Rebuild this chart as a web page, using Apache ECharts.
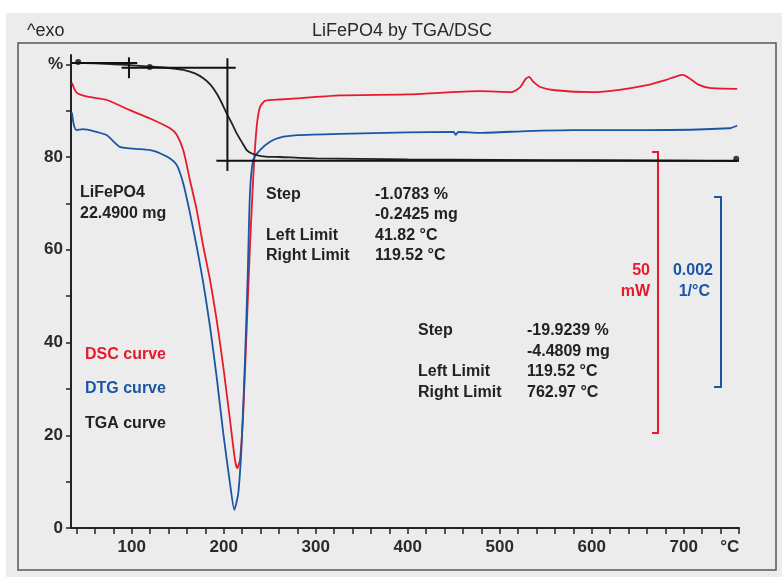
<!DOCTYPE html>
<html>
<head>
<meta charset="utf-8">
<script src="https://cdn.jsdelivr.net/npm/echarts@6/dist/echarts.min.js"></script>
<style>
  html, body { margin: 0; padding: 0; background: #fff; }
  #chart { width: 782px; height: 577px; }
</style>
</head>
<body>
<div id="chart"></div>
<script>
// 温度 (°C) 与曲线数值 (按图中 % 坐标读取)
var dscTemp = [35, 37, 40, 45, 55, 73, 98, 120, 141.6, 148.9, 156, 163.3, 170.6, 177.8, 185.1, 192.3, 199.5, 206.8, 212.2, 214.7, 217.7, 221.3, 225, 228.5, 232.1, 235.8, 239.4, 244.8, 261, 283, 326, 400, 478, 513, 522, 528, 532, 536, 544, 560, 601, 630, 660, 680, 692, 699, 706, 716, 728, 758];
var dscVal  = [96.0, 95.0, 93.9, 93.4, 92.9, 92.3, 90.1, 88.3, 86.2, 84.8, 81.5, 75.0, 68.6, 60.7, 53.5, 44.9, 34.8, 23.3, 14.7, 12.9, 14.7, 25.4, 43.4, 60.7, 75.8, 86.5, 90.8, 92.1, 92.4, 92.7, 93.3, 93.5, 94.2, 94.0, 95.0, 96.8, 97.3, 96.3, 95.1, 94.4, 94.0, 94.5, 95.5, 96.6, 97.4, 97.7, 97.0, 95.6, 94.9, 94.7];

var dtgTemp = [35, 37, 40, 47, 60, 73, 87, 109, 120, 127.1, 141.6, 148.9, 156, 163.3, 170.6, 177.8, 185.1, 192.3, 199.5, 206.8, 211.5, 215.8, 219.5, 223.1, 226, 228.5, 232.1, 239.4, 250.3, 261, 280, 326, 400, 450, 452, 455, 478, 530, 580, 660, 750, 758];
var dtgVal  = [89.6, 87.0, 85.8, 86.0, 85.5, 84.7, 82.2, 81.7, 81.5, 81.1, 79.7, 78.3, 74.3, 67.9, 60.7, 52.8, 43.4, 32.6, 20.4, 9.6, 3.9, 7.5, 18.3, 36.2, 54.2, 72.2, 79.4, 81.5, 83.3, 84.2, 84.7, 85.0, 85.3, 85.4, 84.8, 85.4, 85.2, 85.6, 85.8, 85.8, 86.2, 86.8];

var tgaTemp = [35, 60, 80, 98, 120, 140, 156, 168, 177.8, 186, 192.3, 198, 203.2, 209, 214.1, 220, 225, 230, 235.8, 245, 261, 300, 400, 500, 600, 700, 758];
var tgaVal  = [100.3, 100.2, 100.0, 99.8, 99.5, 99.2, 98.8, 98.1, 97.0, 95.5, 93.7, 91.6, 89.4, 87.2, 85.1, 83.1, 81.5, 80.8, 80.4, 80.1, 80.0, 79.7, 79.5, 79.4, 79.3, 79.2, 79.1];

// 台阶分析辅助线 (数据坐标)
var stepLines = [
  [[35, 100.3], [106, 100.3]],
  [[89, 99.25], [213, 99.25]],
  [[97, 101.5], [97, 97.0]],
  [[204, 101.3], [204, 77.0]],
  [[192, 79.2], [760, 79.2]]
];
var limitMarks = [[41.82, 100.5], [119.52, 99.4], [757, 79.6]];

// 刻度
var xTicks = [40, 60, 80, 100, 120, 140, 160, 180, 200, 220, 240, 260, 280, 300, 320, 340, 360, 380, 400, 420, 440, 460, 480, 500, 520, 540, 560, 580, 600, 620, 640, 660, 680, 700, 720, 740, 760];
var xLabels = [100, 200, 300, 400, 500, 600, 700, 750];
var yTicks = [0, 10, 20, 30, 40, 50, 60, 70, 80, 90, 100];
var yLabels = [0, 20, 40, 60, 80, 100];

function zip(a, b) {
  return a.map(function (v, i) { return [v, b[i]]; });
}

var chart = echarts.init(document.getElementById('chart'));

var txtFont = '"Liberation Sans", Arial, sans-serif';
var axisFont = '"Liberation Sans Narrow", "Liberation Sans", Arial, sans-serif';

function txtR(x, y, s, color) {
  return {
    type: 'text', x: x, y: y,
    style: {
      text: s, fill: color, font: 'bold 16px ' + txtFont,
      align: 'right', verticalAlign: 'middle'
    },
    z: 10
  };
}
function txtL(x, y, s, color) {
  return {
    type: 'text', x: x, y: y,
    style: {
      text: s, fill: color || '#222', font: 'bold 16px ' + txtFont,
      align: 'left', verticalAlign: 'middle'
    },
    z: 10
  };
}

var series = [
  {
    name: 'DSC', type: 'line', data: zip(dscTemp, dscVal), showSymbol: false,
    smooth: 0.2,
    lineStyle: { color: '#e8192c', width: 1.8 }, z: 3
  },
  {
    name: 'DTG', type: 'line', data: zip(dtgTemp, dtgVal), showSymbol: false,
    smooth: 0.2,
    lineStyle: { color: '#1a56a6', width: 1.8 }, z: 3
  },
  {
    name: 'TGA', type: 'line', data: zip(tgaTemp, tgaVal), showSymbol: false,
    smooth: 0.2,
    lineStyle: { color: '#222', width: 1.8 }, z: 4
  }
];
stepLines.forEach(function (seg) {
  series.push({
    type: 'line', data: seg, showSymbol: false, silent: true,
    lineStyle: { color: '#111', width: 2 }, z: 5
  });
});
series.push({
  type: 'scatter', data: limitMarks, symbolSize: 6, silent: true,
  itemStyle: { color: '#111' }, z: 6
});

var option = {
  backgroundColor: '#fff',
  animation: false,
  grid: { left: 71, top: 55, width: 668, height: 473 },
  xAxis: {
    type: 'value', min: 34, max: 760,
    axisLine: { lineStyle: { color: '#222', width: 2 } },
    axisTick: { customValues: xTicks, length: 6, lineStyle: { color: '#222', width: 1.5 } },
    axisLabel: {
      customValues: xLabels, margin: 11, color: '#2a2a2a',
      fontFamily: axisFont, fontWeight: 'bold', fontSize: 17,
      formatter: function (v) { return v === 750 ? '°C' : String(v); }
    },
    splitLine: { show: false }
  },
  yAxis: {
    type: 'value', min: 0, max: 102,
    axisLine: { show: true, lineStyle: { color: '#222', width: 2 } },
    axisTick: { show: true, customValues: yTicks, length: 5, lineStyle: { color: '#222', width: 1.5 } },
    axisLabel: {
      customValues: yLabels, margin: 8, color: '#2a2a2a',
      fontFamily: axisFont, fontWeight: 'bold', fontSize: 17,
      formatter: function (v) { return v === 100 ? '%' : String(v); }
    },
    splitLine: { show: false }
  },
  graphic: [
    { type: 'rect', shape: { x: 6, y: 13, width: 776, height: 564 }, style: { fill: '#ececec' }, z: -10, silent: true },
    { type: 'rect', shape: { x: 18, y: 43, width: 758, height: 527 }, style: { fill: 'none', stroke: '#555', lineWidth: 1.5 }, z: -9, silent: true },
    { type: 'text', x: 27, y: 31, style: { text: '^exo', fill: '#2a2a2a', font: '18px ' + axisFont, verticalAlign: 'middle' } },
    { type: 'text', x: 402, y: 31, style: { text: 'LiFePO4 by TGA/DSC', fill: '#2a2a2a', font: '18px ' + txtFont, align: 'center', verticalAlign: 'middle' } },

    txtL(80, 193, 'LiFePO4'),
    txtL(80, 214, '22.4900 mg'),

    txtL(266, 195, 'Step'), txtL(375, 195, '-1.0783 %'),
    txtL(375, 215, '-0.2425 mg'),
    txtL(266, 236, 'Left Limit'), txtL(375, 236, '41.82 °C'),
    txtL(266, 256, 'Right Limit'), txtL(375, 256, '119.52 °C'),

    txtL(418, 331, 'Step'), txtL(527, 331, '-19.9239 %'),
    txtL(527, 352, '-4.4809 mg'),
    txtL(418, 372, 'Left Limit'), txtL(527, 372, '119.52 °C'),
    txtL(418, 393, 'Right Limit'), txtL(527, 393, '762.97 °C'),

    txtL(85, 355, 'DSC curve', '#e8192c'),
    txtL(85, 389, 'DTG curve', '#1a56a6'),
    txtL(85, 424, 'TGA curve', '#222'),

    txtR(650, 271, '50', '#e8192c'),
    txtR(650, 292, 'mW', '#e8192c'),
    txtR(713, 271, '0.002', '#1a56a6'),
    txtR(710, 292, '1/°C', '#1a56a6'),

    { type: 'polyline', shape: { points: [[652, 152], [658, 152], [658, 433], [652, 433]] }, style: { stroke: '#e8192c', lineWidth: 2, fill: 'none' } },
    { type: 'polyline', shape: { points: [[714, 197], [721, 197], [721, 387], [714, 387]] }, style: { stroke: '#1a56a6', lineWidth: 2, fill: 'none' } }
  ],
  series: series
};

chart.setOption(option);

window.onresize = function () {
  chart.resize();
};
</script>
</body>
</html>
